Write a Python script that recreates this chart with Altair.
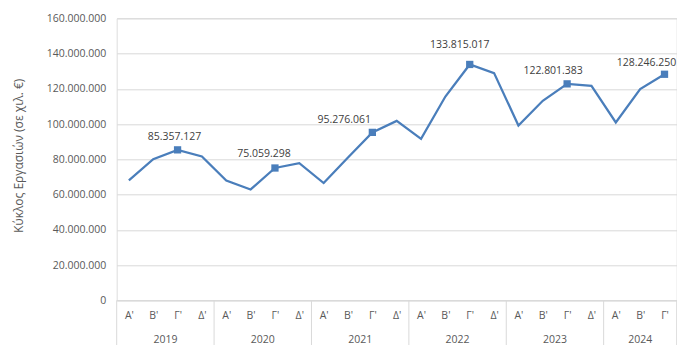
import json
import altair as alt
import pandas as pd

# ---- data ----
years = ["2019"] * 4 + ["2020"] * 4 + ["2021"] * 4 + ["2022"] * 4 + ["2023"] * 4 + ["2024"] * 3
quarters = ["Α'", "Β'", "Γ'", "Δ'"] * 5 + ["Α'", "Β'", "Γ'"]
turnover = [
    68000000, 80100000, 85357127, 81600000,
    68000000, 62900000, 75059298, 77800000,
    66500000, 81000000, 95276061, 101800000,
    91600000, 115600000, 133815017, 128900000,
    99200000, 113200000, 122801383, 121700000,
    100900000, 119800000, 128246250,
]
y_ticks = [0, 20000000, 40000000, 60000000, 80000000, 100000000, 120000000, 140000000, 160000000]
y_title = "Κύκλος Εργασιών (σε χιλ. €)"

df = pd.DataFrame({"idx": list(range(len(turnover))), "year": years,
                   "quarter": quarters, "value": turnover})
marked = df[df["quarter"] == "Γ'"].reset_index(drop=True)

yr = df.groupby("year", sort=True)["idx"].agg(["min", "max", "mean"]).reset_index()
year_df = pd.DataFrame({"year": yr["year"], "mid": yr["mean"]})
bounds = list(yr["min"] - 0.5) + [float(yr["max"].iloc[-1]) + 0.5]
bounds_df = pd.DataFrame({"b": bounds})

# ---- styling ----
W, H = 560, 282
FONT = "Open Sans"
LINE = "#4a7ebb"
GRID = "#d9d9d9"
AXIS_TXT = "#595959"
n = len(turnover)

xscale = alt.Scale(domain=[-0.5, n - 0.5], nice=False, zero=False)
yscale = alt.Scale(domain=[0, 160000000], nice=False)

quarter_expr = json.dumps(quarters) + "[datum.value]"

x_axis = alt.Axis(values=list(range(n)), labelExpr=quarter_expr, ticks=False,
                  grid=False, domainColor=GRID, domainWidth=1, labelPadding=10,
                  labelFontSize=10.5, labelColor=AXIS_TXT, labelFont=FONT,
                  labelAngle=0, labelOverlap=False, labelFlush=False, title=None)
y_axis = alt.Axis(values=y_ticks, format=",d", ticks=False, domain=False,
                  gridColor=GRID, gridWidth=1, labelPadding=11,
                  labelOverlap=False, labelFlush=False,
                  labelFontSize=10.5, labelColor=AXIS_TXT, labelFont=FONT,
                  title=y_title, titleFont=FONT, titleFontSize=12,
                  titleFontWeight="normal", titleColor=AXIS_TXT,
                  titleAngle=270, titleX=-98, titleY=H / 2 - 4,
                  titleAlign="center", titleBaseline="middle")


def X(field):
    return alt.X(field, scale=xscale, axis=x_axis)


def Y(field):
    return alt.Y(field, scale=yscale, axis=y_axis)


line = alt.Chart(df).mark_line(color=LINE, strokeWidth=2.25).encode(
    x=X("idx:Q"), y=Y("value:Q"))

pts = alt.Chart(marked).mark_point(shape="square", filled=True, size=53,
                                   color=LINE, opacity=1).encode(
    x=X("idx:Q"), y=Y("value:Q"))

label_dx = [-3, -11, -28, -10, -14, -18]
label_dy = [-10, -11, -9, -16, -10, -8]
label_layers = []
for i in range(len(marked)):
    label_layers.append(
        alt.Chart(marked.iloc[[i]]).mark_text(
            font=FONT, fontSize=10.5, color="#404040", align="center",
            baseline="alphabetic", dx=label_dx[i], dy=label_dy[i]).encode(
            x=X("idx:Q"), y=Y("value:Q"),
            text=alt.Text("value:Q", format=",d")))

seps = alt.Chart(bounds_df).mark_rule(color=GRID, strokeWidth=1).encode(
    x=X("b:Q"), y=alt.value(H), y2=alt.value(H + 47))

year_txt = alt.Chart(year_df).mark_text(
    font=FONT, fontSize=10.5, color=AXIS_TXT, baseline="middle", align="center").encode(
    x=X("mid:Q"), y=alt.value(H + 40), text="year:N")

chart = alt.layer(line, seps, pts, year_txt, *label_layers).properties(
    width=W, height=H,
    padding={"left": 108.7, "top": 10.3, "right": 0, "bottom": 45},
    autosize=alt.AutoSizeParams(type="none"),
).configure_view(strokeWidth=0).configure(
    locale={"number": {"decimal": ",", "thousands": ".", "grouping": [3],
                       "currency": ["", " €"]}}
)

chart.save("out.html", embed_options={"renderer": "svg", "actions": False})
